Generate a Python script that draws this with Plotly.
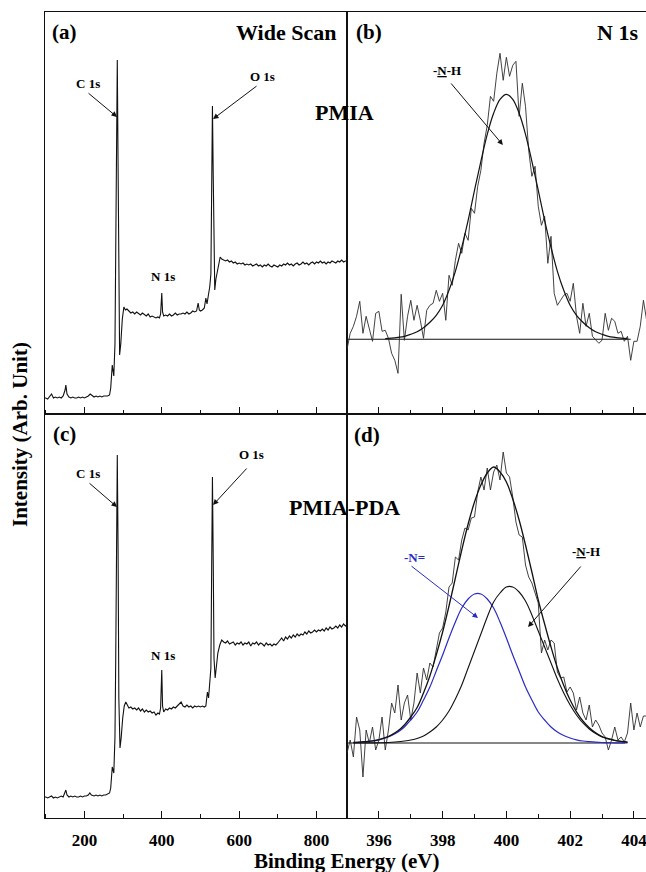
import plotly.graph_objects as go

# ---------------- Wide-scan survey spectra (binding energy in eV, intensity in a.u.) ----------------
A_EV = [
    97, 100, 105, 110, 115, 120, 125, 130, 135, 140,
    145, 150, 152, 155, 160, 165, 170, 175, 180, 185,
    190, 195, 200, 205, 210, 215, 220, 225, 230, 235,
    240, 245, 250, 255, 260, 265, 268, 272, 276, 279,
    281, 283, 285, 287, 289, 291, 294, 298, 302, 306,
    310, 315, 320, 325, 330, 335, 340, 345, 350, 355,
    360, 365, 370, 375, 380, 385, 390, 394, 397, 400,
    402, 405, 410, 415, 420, 425, 430, 435, 440, 445,
    450, 455, 460, 465, 470, 475, 480, 485, 490, 494,
    497, 500, 505, 510, 514, 517, 521, 524, 527, 529,
    531, 533, 535, 537, 540, 543, 547, 551, 555, 560,
    565, 570, 575, 580, 585, 590, 595, 600, 605, 610,
    615, 620, 625, 630, 635, 640, 645, 650, 655, 660,
    665, 670, 675, 680, 685, 690, 695, 700, 705, 710,
    715, 720, 725, 730, 735, 740, 745, 750, 755, 760,
    765, 770, 775, 780, 785, 790, 795, 800, 805, 810,
    815, 820, 825, 830, 835, 840, 845, 850, 855, 860,
    865, 870, 875, 880,
]
A_INT = [
    16, 16, 15, 18, 20, 16, 17, 16, 17, 16,
    18, 24, 29, 20, 17, 16, 17, 16, 16, 17,
    16, 17, 16, 17, 18, 20, 18, 17, 18, 17,
    18, 17, 18, 18, 18, 19, 26, 49, 38, 70,
    150, 300, 354, 250, 100, 59, 70, 95, 107, 104,
    105, 103, 101, 102, 100, 102, 100, 99, 101, 99,
    98, 100, 97, 98, 97, 96, 97, 96, 100, 121,
    102, 98, 99, 98, 100, 98, 99, 101, 99, 100,
    100, 101, 100, 102, 100, 101, 103, 102, 103, 111,
    104, 103, 104, 106, 116, 110, 120, 127, 140, 220,
    308, 240, 140, 124, 135, 141, 150, 157, 155, 154,
    153, 154, 152, 153, 151, 152, 150, 151, 150, 151,
    149, 150, 149, 150, 148, 149, 150, 148, 149, 147,
    149, 148, 150, 148, 147, 149, 148, 147, 149, 148,
    150, 149, 151, 149, 150, 148, 150, 151, 149, 150,
    152, 150, 151, 149, 151, 152, 150, 152, 151, 153,
    151, 152, 150, 152, 151, 153, 152, 151, 153, 152,
    154, 152, 153, 153,
]

C_EV = [
    97, 100, 105, 110, 115, 120, 125, 130, 135, 140,
    145, 150, 152, 155, 160, 165, 170, 175, 180, 185,
    190, 195, 200, 205, 210, 214, 218, 225, 230, 235,
    240, 245, 250, 255, 260, 265, 268, 272, 276, 279,
    281, 283, 285, 287, 289, 292, 295, 299, 303, 307,
    311, 315, 320, 325, 330, 335, 340, 345, 350, 355,
    360, 365, 370, 375, 380, 385, 390, 394, 397, 400,
    402, 405, 410, 415, 420, 425, 430, 435, 440, 445,
    450, 455, 460, 465, 470, 475, 480, 485, 490, 495,
    500, 505, 510, 514, 518, 521, 524, 527, 529, 531,
    533, 535, 538, 541, 545, 550, 555, 560, 565, 570,
    575, 580, 585, 590, 595, 600, 605, 610, 615, 620,
    625, 630, 635, 640, 645, 650, 655, 660, 665, 670,
    675, 680, 685, 690, 695, 700, 705, 710, 715, 720,
    725, 730, 735, 740, 745, 750, 755, 760, 765, 770,
    775, 780, 785, 790, 795, 800, 805, 810, 815, 820,
    825, 830, 835, 840, 845, 850, 855, 860, 865, 870,
    875, 880,
]
C_INT = [
    21, 21, 20, 21, 22, 20, 21, 20, 21, 22,
    21, 25, 28, 23, 21, 22, 21, 22, 21, 21,
    22, 21, 22, 22, 23, 25, 23, 22, 23, 22,
    23, 22, 23, 23, 24, 25, 30, 51, 45, 81,
    160, 300, 363, 270, 120, 70, 80, 100, 112, 116,
    112, 110, 111, 109, 110, 108, 110, 107, 109, 106,
    108, 106, 107, 105, 106, 103, 105, 104, 110, 148,
    112, 106, 109, 108, 110, 109, 111, 110, 112, 114,
    116, 112, 111, 113, 111, 112, 110, 112, 111, 112,
    111, 112, 111, 112, 126, 120, 132, 150, 250, 341,
    260, 160, 140, 150, 165, 173, 178, 176, 175, 177,
    174, 175, 176, 173, 175, 174, 176, 173, 175, 174,
    176, 172, 175, 174, 176, 173, 175, 174, 172, 175,
    173, 174, 172, 174, 173, 175, 178, 180, 177, 181,
    179, 182, 180, 183, 181, 184, 182, 184, 183, 186,
    184, 187, 185, 186, 188, 186, 188, 187, 189, 187,
    190, 188, 191, 189, 190, 192, 190, 193, 191, 194,
    192, 193,
]

# ---------------- N 1s high-resolution spectra (background-subtracted) ----------------
N1S_START, N1S_STEP = 395.0, 0.1
N1S_B_RAW = [
    -10, 6, 13, 23, 38, 6, 23, 9, -2, 26,
    28, 8, 9, 1, -14, -21, -34, 45, -1, 23,
    39, 19, 34, 19, 1, 29, 34, 36, 49, 38,
    46, 19, 64, 54, 79, 96, 86, 106, 99, 131,
    126, 153, 169, 196, 214, 243, 238, 266, 286, 259,
    282, 263, 274, 278, 223, 256, 233, 189, 163, 173,
    133, 114, 123, 76, 103, 46, 34, 39, 44, 46,
    38, 56, 23, 6, 36, 13, 26, 3, -1, -4,
    -1, 26, 9, 21, 18, 6, 8, -2, 3, -21,
    -2, -2, 13, 39, 19,
]
N1S_D_RAW = [
    -10, 3, -14, 26, 13, -34, 13, 0, 16, -7,
    3, 26, -7, 13, 40, 30, 58, 23, 40, 48,
    23, 40, 70, 50, 75, 63, 80, 76, 93, 110,
    115, 131, 156, 160, 186, 183, 203, 215, 213, 225,
    226, 251, 266, 253, 275, 253, 271, 278, 263, 291,
    270, 266, 246, 221, 208, 206, 178, 166, 160, 150,
    140, 90, 103, 93, 103, 100, 71, 65, 66, 51,
    56, 50, 33, 46, 30, 23, 38, 16, 23, 18,
    10, 6, -7, 3, 16, 3, 6, 1, 10, 40,
    13, 30, 16, 27, 27,
]

# Fitted -N-H component of PMIA
FIT_B_EV = [
    396.2, 396.4, 396.6, 396.8, 397.0, 397.2, 397.4, 397.6, 397.8, 398.0,
    398.2, 398.4, 398.6, 398.8, 399.0, 399.2, 399.4, 399.6, 399.8, 400.0,
    400.2, 400.4, 400.6, 400.8, 401.0, 401.2, 401.4, 401.6, 401.8, 402.0,
    402.2, 402.4, 402.6, 402.8, 403.0, 403.2, 403.4, 403.6, 403.8,
]
FIT_B_NH = [
    0.6, 1.2, 2, 3, 5, 7.5, 11.5, 17, 24, 34,
    49, 68, 92, 119, 149, 178, 205, 226, 240, 245,
    240, 226, 205, 178, 149, 119, 92, 68, 49, 34,
    24, 17, 11.5, 7.5, 5, 3, 2, 1.2, 0.6,
]
BG_B_EV = [395.0, 403.9]
BG_B = [74.7, 74.7]

# Fitted components of PMIA-PDA
FIT_D_EV = [
    395.2, 395.4, 395.6, 395.8, 396.0, 396.2, 396.4, 396.6, 396.8, 397.0,
    397.2, 397.4, 397.6, 397.8, 398.0, 398.2, 398.4, 398.6, 398.8, 399.0,
    399.2, 399.4, 399.6, 399.8, 400.0, 400.2, 400.4, 400.6, 400.8, 401.0,
    401.2, 401.4, 401.6, 401.8, 402.0, 402.2, 402.4, 402.6, 402.8, 403.0,
    403.2, 403.4, 403.6, 403.8,
]
FIT_D_N_IMINE = [
    0.5, 0.8, 1.3, 2, 3.2, 5, 7.5, 11, 16, 23,
    31, 43, 56, 72, 88, 105, 121, 135, 144, 149,
    149, 144, 135, 121, 105, 88, 72, 56, 43, 31,
    23, 16, 11, 7.5, 5, 3.2, 2, 1.3, 0.8, 0.5,
    0.3, 0.2, 0.1, 0.1,
]
FIT_D_NH = [
    0, 0, 0.1, 0.1, 0.2, 0.4, 0.7, 1.2, 2, 3,
    4.5, 7, 11, 16, 23, 32, 44, 58, 75, 92,
    109, 126, 141, 150, 156, 156, 151, 142, 128, 112,
    96, 80, 64, 50, 38, 28, 20, 14, 9.5, 6,
    4, 2.5, 1.5, 0.8,
]
BG_D_EV = [395.0, 403.72]
BG_D = [75.0, 75.0]

# ---------------- figure geometry ----------------
W, H = 646, 872
FONT = "Liberation Serif"
INK = "#111111"
BLUE = "#2a2ac8"


def fx(p):
    return p / W


def fy(p):
    return 1 - p / H


LEFT = [fx(44.5), fx(347)]
RIGHT = [fx(347), 1.0]
TOP = [fy(414), fy(12)]
BOTTOM = [fy(818), fy(414)]

n_pts = len(N1S_B_RAW)
n1s_ev = [round(N1S_START + i * N1S_STEP, 2) for i in range(n_pts)]

fig = go.Figure()


def line(x, y, xa, ya, color=INK, width=1.0, shape="linear"):
    fig.add_trace(go.Scatter(
        x=x, y=y, xaxis=xa, yaxis=ya, mode="lines",
        line=dict(color=color, width=width, shape=shape),
        hoverinfo="skip", showlegend=False,
    ))


# (a) PMIA survey
line(A_EV, A_INT, "x", "y", width=1.1)
# (b) PMIA N 1s
bg_b = BG_B[0]
line(BG_B_EV, BG_B, "x2", "y2", width=1.1)
line(n1s_ev, [bg_b + v for v in N1S_B_RAW], "x2", "y2", color="#2e2e2e", width=0.9)
line(FIT_B_EV, [bg_b + v for v in FIT_B_NH], "x2", "y2", width=1.2, shape="spline")
# (c) PMIA-PDA survey
line(C_EV, C_INT, "x3", "y3", width=1.1)
# (d) PMIA-PDA N 1s
bg_d = BG_D[0]
envelope = [a + b for a, b in zip(FIT_D_N_IMINE, FIT_D_NH)]
line(BG_D_EV, BG_D, "x4", "y4", width=1.1)
line(n1s_ev, [bg_d + v for v in N1S_D_RAW], "x4", "y4", color="#2e2e2e", width=0.9)
line(FIT_D_EV, [bg_d + v for v in FIT_D_N_IMINE], "x4", "y4", color=BLUE, width=1.2, shape="spline")
line(FIT_D_EV, [bg_d + v for v in FIT_D_NH], "x4", "y4", width=1.1, shape="spline")
line(FIT_D_EV, [bg_d + v for v in envelope], "x4", "y4", width=1.3, shape="spline")

tickfont = dict(family=FONT, size=17, color="black", weight="bold")


def xaxis(domain, rng, dtick, minor, anchor, labels):
    return dict(
        domain=domain, range=rng, anchor=anchor,
        showline=True, linecolor=INK, linewidth=1.3, mirror=True,
        ticks="inside", ticklen=7, tickwidth=1.2, tickcolor=INK,
        tick0=0, dtick=dtick,
        minor=dict(ticks="inside", ticklen=4, tickwidth=1.1, tickcolor=INK, dtick=minor, tick0=0),
        showticklabels=labels, tickfont=tickfont,
        ticklabeloverflow="allow", ticklabelstandoff=6,
        showgrid=False, zeroline=False, fixedrange=True,
    )


def yaxis(domain, rng, anchor, mirror):
    return dict(
        domain=domain, range=rng, anchor=anchor,
        showline=True, linecolor=INK, linewidth=1.3, mirror=mirror,
        ticks="", showticklabels=False, showgrid=False, zeroline=False, fixedrange=True,
    )


WIDE_RANGE = [96.8, 878.9]
N1S_RANGE = [395.0, 404.38]

fig.update_layout(
    width=W, height=H,
    margin=dict(l=0, r=0, t=0, b=0),
    paper_bgcolor="white", plot_bgcolor="white",
    xaxis=xaxis(LEFT, WIDE_RANGE, 200, 100, "y", False),
    yaxis=yaxis(TOP, [0, 402], "x", True),
    xaxis2=xaxis(RIGHT, N1S_RANGE, 2, 1, "y2", False),
    yaxis2=yaxis(TOP, [0, 402], "x2", False),
    xaxis3=xaxis(LEFT, WIDE_RANGE, 200, 100, "y3", True),
    yaxis3=yaxis(BOTTOM, [0, 404], "x3", True),
    xaxis4=xaxis(RIGHT, N1S_RANGE, 2, 1, "y4", True),
    yaxis4=yaxis(BOTTOM, [0, 404], "x4", False),
)


def text(s, px, py, size, color="black", anchor="center"):
    fig.add_annotation(
        text=s, x=fx(px), y=fy(py), xref="paper", yref="paper",
        xanchor=anchor, yanchor="middle", showarrow=False,
        font=dict(family=FONT, size=size, color=color, weight="bold"),
    )


def arrow(xa, ya, x, y, dx, dy, color=INK):
    fig.add_annotation(
        text="", x=x, y=y, xref=xa, yref=ya, ax=dx, ay=dy,
        axref="pixel", ayref="pixel", showarrow=True,
        arrowhead=2, arrowsize=1.1, arrowwidth=1.0, arrowcolor=color, standoff=0,
    )


# panel tags and titles
text("(a)", 64, 32, 21)
text("Wide Scan", 338, 32, 22, anchor="right")
text("(b)", 369, 32, 21)
text("N 1s", 640, 32, 22, anchor="right")
text("PMIA", 345, 112, 22)
text("(c)", 64, 434, 21)
text("(d)", 367, 435, 21)
text("PMIA-PDA", 345, 507, 22)

# peak labels
text("C 1s", 88, 83, 13)
text("O 1s", 262, 76, 13)
text("N 1s", 163, 276, 13)
text("C 1s", 88, 473, 13)
text("O 1s", 251, 454, 13)
text("N 1s", 163, 655, 13)
text("-<u>N</u>-H", 447, 71, 13)
text("-N=", 414, 557, 13, color=BLUE)
text("-<u>N</u>-H", 586, 551, 13)

arrow("x", "y", 284.3, 297, -30, -25)
arrow("x", "y", 532.5, 295, 45, -34)
arrow("x3", "y3", 284.3, 311, -29, -25)
arrow("x3", "y3", 532.5, 313, 35, -38)
arrow("x2", "y2", 399.89, 269, -53, -63)
arrow("x4", "y4", 399.11, 200, -68, -53, color=BLUE)
arrow("x4", "y4", 400.68, 191, 54, -62)

# axis titles
fig.add_annotation(
    text="Intensity (Arb. Unit)", x=fx(20), y=fy(435), xref="paper", yref="paper",
    textangle=-90, showarrow=False, xanchor="center", yanchor="middle",
    font=dict(family=FONT, size=21, color="black", weight="bold"),
)
fig.add_annotation(
    text="Binding Energy (eV)", x=fx(347), y=fy(861), xref="paper", yref="paper",
    showarrow=False, xanchor="center", yanchor="middle",
    font=dict(family=FONT, size=21, color="black", weight="bold"),
)

fig.write_html("out.html")
